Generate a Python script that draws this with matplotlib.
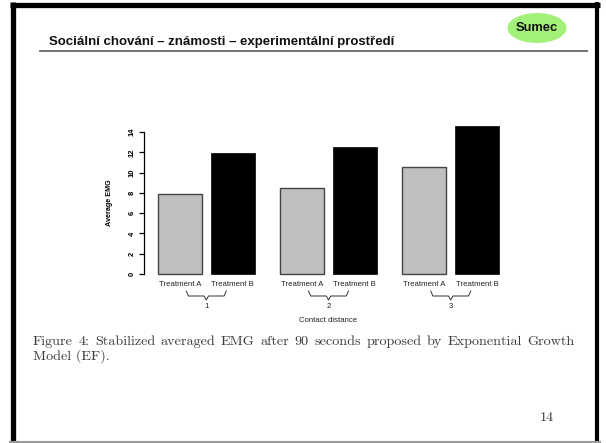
import matplotlib
matplotlib.use("Agg")
import matplotlib.pyplot as plt
from matplotlib.patches import Ellipse
import numpy as np

# data
groups = ['1', '2', '3']
treatments = ['Treatment A', 'Treatment B']
treat_a = [7.9, 8.5, 10.55]
treat_b = [11.9, 12.5, 14.6]
y_ticks = [0, 2, 4, 6, 8, 10, 12, 14]

title = 'Sociální chování – známosti – experimentální prostředí'
badge = 'Sumec'
caption1 = 'Figure 4:  Stabilized averaged EMG after 90 seconds proposed by Exponential Growth'
caption2 = 'Model (EF).'
page_no = '14'

W, H = 606, 443
fig = plt.figure(figsize=(W / 100, H / 100), dpi=100)

# background layer in pixel coordinates
bg = fig.add_axes([0, 0, 1, 1])
bg.set_xlim(0, W)
bg.set_ylim(H, 0)
bg.axis('off')

# slide frame
bg.plot([12.5, 12.5], [2, 443], color='black', lw=3.8, solid_capstyle='butt')
bg.plot([10, 600], [4.5, 4.5], color='black', lw=3.8, solid_capstyle='butt')
bg.plot([597, 597], [2, 443], color='black', lw=3.0, solid_capstyle='butt')
bg.plot([10, 600], [441.5, 441.5], color='#999999', lw=1.5)

# header
bg.text(49, 42, title, fontsize=9.5, fontweight='bold', family='Liberation Sans',
        ha='left', va='center', color='#111111')
bg.plot([40, 587], [51, 51], color='#666666', lw=1.3)
bg.add_patch(Ellipse((537, 28), 59, 30, facecolor='#a3f07a', edgecolor='none'))
bg.text(537, 27.5, badge, fontsize=9.3, fontweight='bold', family='Liberation Sans',
        ha='center', va='center', color='#111111')

# caption, justified over the first line
fig.canvas.draw()
renderer = fig.canvas.get_renderer()
cap_kw = dict(fontsize=10.2, family='cmr10', color='#3a3a3a', va='center')
words = caption1.replace(':  ', ': ').split(' ')
x_left, x_right = 33, 575
widths = []
for w in words:
    t = bg.text(0, 0, w, **cap_kw)
    bb = t.get_window_extent(renderer)
    widths.append(bb.width)
    t.remove()
gap = (x_right - x_left - sum(widths)) / (len(words) - 1)
x = x_left
for w, wd in zip(words, widths):
    bg.text(x, 342, w, ha='left', **cap_kw)
    x += wd + gap
bg.text(x_left, 356.5, caption2, ha='left', **cap_kw)
bg.text(546.5, 418, page_no, ha='center', **cap_kw)

# bar chart
px_unit = 44.0
ax_left, ax_right = 144, 520
y0_px, y14_px = 274, 132
ax = fig.add_axes([ax_left / W, (H - y0_px) / H, (ax_right - ax_left) / W, (y0_px - y14_px) / H])
ax.set_xlim(0, (ax_right - ax_left) / px_unit)
ax.set_ylim(0, 14)

mids = 1.415 + 2.778 * np.arange(len(groups))
off = 0.597
ax.bar(mids - off, treat_a, width=1.0, color='#c0c0c0', edgecolor='#444444', linewidth=1.0, clip_on=False)
ax.bar(mids + off, treat_b, width=1.0, color='black', edgecolor='black', linewidth=0.5, clip_on=False)

for s in ['top', 'right', 'bottom']:
    ax.spines[s].set_visible(False)
ax.spines['left'].set_linewidth(0.9)
ax.set_xticks([])
ax.set_yticks(y_ticks)
ax.set_yticklabels([str(v) for v in y_ticks], rotation=90, va='center',
                   fontsize=5.5, fontweight='bold', family='Liberation Sans')
ax.tick_params(axis='y', direction='out', length=3.6, width=0.9, pad=2.5)
ax.set_ylabel('Average EMG', fontsize=5.2, fontweight='bold', family='Liberation Sans')
ax.yaxis.set_label_coords(-31 / (ax_right - ax_left), 0.5)

# treatment labels, braces and group numbers
tr = ax.get_xaxis_transform()
hpx = float(y0_px - y14_px)
def fy(py):
    return (y0_px - py) / hpx

lab_kw = dict(fontsize=5.6, family='Liberation Sans', color='#222222', ha='center', va='center')
for m, g in zip(mids, groups):
    ax.text(m - off, fy(285), treatments[0], transform=tr, **lab_kw)
    ax.text(m + off, fy(285), treatments[1], transform=tr, **lab_kw)
    hw = 20 / px_unit
    bx = [m - hw, m - hw + 0.05, m - 0.05, m, m + 0.05, m + hw - 0.05, m + hw]
    by = [fy(291), fy(296), fy(296), fy(300), fy(296), fy(296), fy(291)]
    ax.plot(bx, by, transform=tr, color='#333333', lw=0.7, clip_on=False)
    ax.text(m, fy(307), g, transform=tr, **lab_kw)
ax.text(mids[1], fy(320), 'Contact distance', transform=tr, **lab_kw)

fig.savefig('out.png', dpi=100)
